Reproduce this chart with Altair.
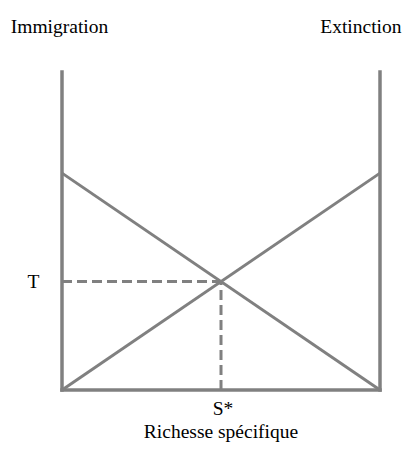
import altair as alt
import pandas as pd

# Data
richesse = [0, 100]          # species richness (x)
immigration = [68.2, 0]      # immigration rate
extinction = [0, 68.2]       # extinction rate
s_star = 50                  # equilibrium richness S*
t_rate = 34.1                # equilibrium turnover T
frame_top = 100
x_title = "Richesse spécifique"
s_label = "S*"

GRAY = "#808080"
FONT = "Liberation Serif"
FS = 19.5

df_imm = pd.DataFrame({"x": richesse, "y": immigration})
df_ext = pd.DataFrame({"x": richesse, "y": extinction})

xs = alt.Scale(domain=[0, 100], nice=False, zero=False)
ys = alt.Scale(domain=[0, 100], nice=False, zero=False)

frame_v = alt.Chart(pd.DataFrame({"x": [0, 100], "y0": [0, 0], "y1": [frame_top, frame_top]})).mark_rule(
    color=GRAY, strokeWidth=3.5, strokeCap="square"
).encode(
    x=alt.X("x:Q", scale=xs, axis=None),
    y=alt.Y("y0:Q", scale=ys, axis=None),
    y2="y1:Q",
)

frame_h = alt.Chart(pd.DataFrame({"x0": [0], "x1": [100], "y": [0]})).mark_rule(
    color=GRAY, strokeWidth=3.5, strokeCap="square"
).encode(
    x=alt.X("x0:Q", scale=xs, axis=None),
    x2="x1:Q",
    y=alt.Y("y:Q", scale=ys, axis=None),
)

imm_line = alt.Chart(df_imm).mark_line(color=GRAY, strokeWidth=3).encode(
    x=alt.X("x:Q", scale=xs, axis=None),
    y=alt.Y("y:Q", scale=ys, axis=alt.Axis(
        orient="left", values=[t_rate], labelExpr="'T'", ticks=False, domain=False, grid=False,
        labelFont=FONT, labelFontSize=FS, labelColor="black", labelPadding=23,
        title="Immigration", titleFont=FONT, titleFontSize=FS, titleFontWeight="normal",
        titleColor="black", titleAngle=0, titleAlign="center", titleBaseline="alphabetic",
        titleX=-3, titleY=-40,
    )),
)

ext_line = alt.Chart(df_ext).mark_line(color=GRAY, strokeWidth=3).encode(
    x=alt.X("x:Q", scale=xs, axis=None),
    y=alt.Y("y:Q", scale=ys, axis=alt.Axis(
        orient="right", values=[], labels=False, ticks=False, domain=False, grid=False,
        title="Extinction", titleFont=FONT, titleFontSize=FS, titleFontWeight="normal",
        titleColor="black", titleAngle=0, titleAlign="right", titleBaseline="alphabetic",
        titleX=21, titleY=-40,
    )),
)

dash_h = alt.Chart(pd.DataFrame({"x0": [0], "x1": [s_star], "y": [t_rate]})).mark_rule(
    color=GRAY, strokeWidth=3, strokeDash=[10, 5]
).encode(
    x=alt.X("x0:Q", scale=xs, axis=None),
    x2="x1:Q",
    y=alt.Y("y:Q", scale=ys, axis=None),
)

dash_v = alt.Chart(pd.DataFrame({"x": [s_star], "y0": [0], "y1": [t_rate]})).mark_rule(
    color=GRAY, strokeWidth=3, strokeDash=[10, 5]
).encode(
    x=alt.X("x:Q", scale=xs, axis=None),
    y=alt.Y("y0:Q", scale=ys, axis=None),
    y2="y1:Q",
)

s_text = alt.Chart(pd.DataFrame({"x": [s_star], "y": [0], "t": [s_label]})).mark_text(
    font=FONT, fontSize=FS, color="black", baseline="alphabetic", align="center", dy=25, dx=2
).encode(
    x=alt.X("x:Q", scale=xs, axis=None),
    y=alt.Y("y:Q", scale=ys, axis=None),
    text="t:N",
)

title_text = alt.Chart(pd.DataFrame({"x": [(richesse[0] + richesse[1]) / 2], "y": [0], "t": [x_title]})).mark_text(
    font=FONT, fontSize=FS, color="black", baseline="alphabetic", align="center", dy=48
).encode(
    x=alt.X("x:Q", scale=xs, axis=None),
    y=alt.Y("y:Q", scale=ys, axis=None),
    text="t:N",
)

chart = alt.layer(
    frame_v, frame_h, dash_h, dash_v, imm_line, ext_line, s_text, title_text
).resolve_axis(
    y="independent"
).properties(
    width=318, height=318,
    background="white",
    autosize=alt.AutoSizeParams(type="none"),
    padding={"left": 54, "top": 64, "right": 22, "bottom": 54},
).configure_view(stroke=None)

chart.save("out.html", embed_options={"renderer": "svg", "actions": False})
